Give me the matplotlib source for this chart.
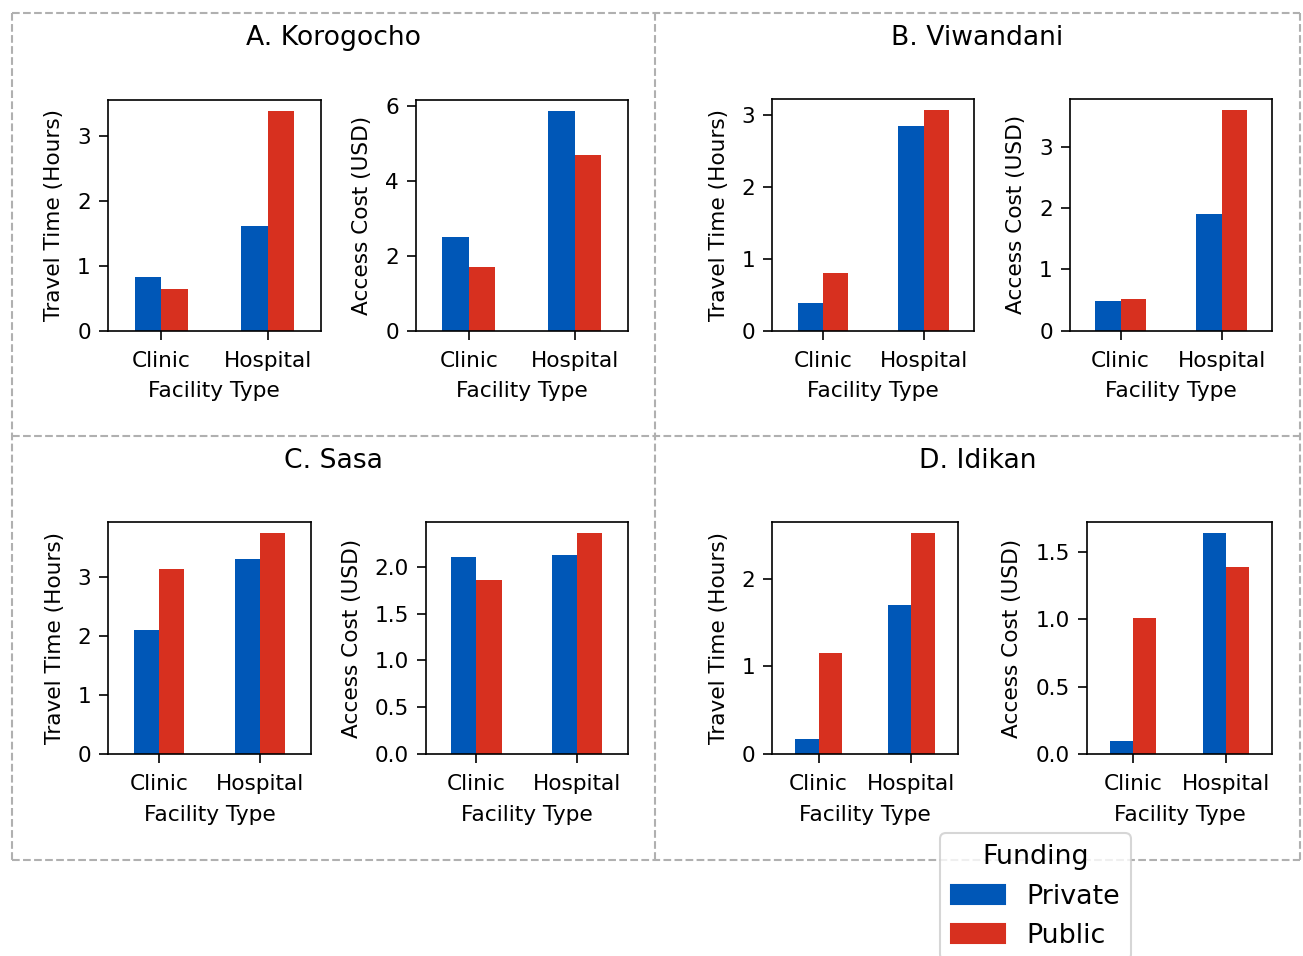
import matplotlib
matplotlib.use("Agg")
import matplotlib.pyplot as plt
from matplotlib.patches import Patch
from matplotlib.lines import Line2D
import numpy as np

# ---- data ----
categories = ["Clinic", "Hospital"]
series_names = ["Private", "Public"]
panel_titles = ["A. Korogocho", "B. Viwandani", "C. Sasa", "D. Idikan"]

travel_private = [[0.83, 1.61], [0.38, 2.85], [2.10, 3.29], [0.17, 1.70]]
travel_public = [[0.65, 3.39], [0.80, 3.07], [3.13, 3.73], [1.15, 2.52]]
cost_private = [[2.49, 5.87], [0.49, 1.90], [2.11, 2.13], [0.10, 1.64]]
cost_public = [[1.71, 4.69], [0.51, 3.60], [1.86, 2.36], [1.01, 1.39]]

colors = ["#0057b7", "#d7301f"]

plt.rcParams["font.size"] = 10.4
plt.rcParams["xtick.major.size"] = 4.2
plt.rcParams["ytick.major.size"] = 4.2
plt.rcParams["xtick.major.pad"] = 5.5
plt.rcParams["ytick.major.pad"] = 4.0

W, H = 1303, 956
DPI = 150
fig = plt.figure(figsize=(W / DPI, H / DPI), dpi=DPI)


def px_rect(l, t, r, b):
    return [l / W, 1 - b / H, (r - l) / W, (b - t) / H]


def fx(v):
    return v / W


def fy(v):
    return 1 - v / H


# axes pixel boxes (left, top, right, bottom)
axes_boxes = [
    [(108, 100, 320.7, 330.7), (416, 100, 627.7, 330.7)],
    [(772.3, 99, 974, 330.7), (1070, 99, 1272.3, 330.7)],
    [(108.3, 522.3, 310.7, 754), (426, 522.3, 627.7, 754)],
    [(772.3, 522.3, 957.7, 754), (1086.7, 522.3, 1272.3, 754)],
]
title_pos = [(333.5, 45), (977.5, 45), (333.5, 468), (977.5, 468)]

# dashed frame lines
L, T, R, B = 12, 13, 1300, 860
MX, MY = 655, 435.5
frame_style = dict(color="#b0b0b0", linestyle="--", linewidth=1.0,
                   transform=fig.transFigure)
segments = [((L, R), (T, T)), ((L, R), (B, B)), ((L, L), (T, B)),
            ((R, R), (T, B)), ((MX, MX), (T, B)), ((L, R), (MY, MY))]
for (xs, ys) in segments:
    fig.lines.append(Line2D([fx(v) for v in xs], [fy(v) for v in ys],
                            **frame_style))

x = np.arange(len(categories))
bw = 0.25
for i in range(4):
    fig.text(fx(title_pos[i][0]), fy(title_pos[i][1]), panel_titles[i],
             ha="center", va="baseline", fontsize=12.8)
    data_sets = [(travel_private[i], travel_public[i], "Travel Time (Hours)"),
                 (cost_private[i], cost_public[i], "Access Cost (USD)")]
    for j, (priv, pub, ylab) in enumerate(data_sets):
        ax = fig.add_axes(px_rect(*axes_boxes[i][j]))
        ax.bar(x - bw / 2, priv, bw, color=colors[0], label=series_names[0])
        ax.bar(x + bw / 2, pub, bw, color=colors[1], label=series_names[1])
        ax.set_xlim(-0.5, 1.5)
        ax.set_ylim(0, max(max(priv), max(pub)) * 1.05)
        ax.set_xticks(x)
        ax.set_xticklabels(categories)
        ax.set_xlabel("Facility Type", labelpad=5)
        ax.set_ylabel(ylab, labelpad=6.2)

handles = [Patch(color=c, label=n) for c, n in zip(colors, series_names)]
fig.legend(handles=handles, title="Funding", loc="upper left",
           bbox_to_anchor=(fx(927), fy(820)), fontsize=12.9,
           title_fontsize=12.9)

fig.savefig("out.png", dpi=DPI)
